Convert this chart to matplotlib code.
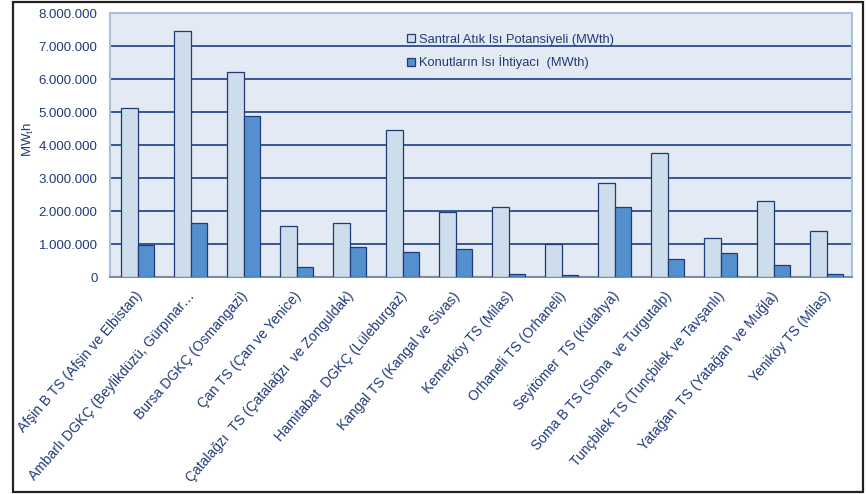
import matplotlib.pyplot as plt
import numpy as np
from matplotlib.patches import Patch, Rectangle
from matplotlib.ticker import FuncFormatter

plt.rcParams["font.family"] = ["Liberation Sans", "DejaVu Sans"]

plants = [
    "Afşin B TS (Afşin ve Elbistan)",
    "Ambarlı DGKÇ (Beylikdüzü, Gürpınar…",
    "Bursa DGKÇ (Osmangazi)",
    "Çan TS (Çan ve Yenice)",
    "Çatalağzı  TS (Çatalağzı  ve Zonguldak)",
    "Hamitabat  DGKÇ (Lüleburgaz)",
    "Kangal TS (Kangal ve Sivas)",
    "Kemerköy TS (Milas)",
    "Orhaneli TS (Orhaneli)",
    "Seyitömer  TS (Kütahya)",
    "Soma B TS (Soma  ve Turgutalp)",
    "Tunçbilek TS (Tunçbilek ve Tavşanlı)",
    "Yatağan  TS (Yatağan  ve Muğla)",
    "Yeniköy TS (Milas)",
]
waste_heat = [5120000, 7450000, 6200000, 1540000, 1640000, 4450000, 1980000,
              2110000, 1010000, 2860000, 3770000, 1180000, 2290000, 1380000]
heat_demand = [960000, 1640000, 4880000, 300000, 910000, 750000, 850000,
               100000, 60000, 2130000, 560000, 730000, 370000, 100000]
series_names = ["Santral Atık Isı Potansiyeli (MWth)", "Konutların Isı İhtiyacı  (MWth)"]

NAVY = "#1F3A78"
LIGHT = "#CEDDEC"
DARK = "#5590CE"

fig = plt.figure(figsize=(8.66, 4.94), dpi=100)
ax = fig.add_axes([110 / 866, 1 - 277 / 494, 742 / 866, 264 / 494])
ax.set_facecolor("#E3EAF3")

x = np.arange(len(plants))
w = 0.31
ax.bar(x - w / 2 + 0.02, waste_heat, w, color=LIGHT, edgecolor=NAVY, linewidth=0.9, zorder=3)
ax.bar(x + w / 2 + 0.02, heat_demand, w, color=DARK, edgecolor=NAVY, linewidth=0.9, zorder=3)

ax.set_xlim(-0.5, len(plants) - 0.5)
ax.set_ylim(0, 8000000)
ax.set_yticks(np.arange(0, 8000001, 1000000))
ax.yaxis.set_major_formatter(FuncFormatter(lambda v, p: f"{int(v):,}".replace(",", ".")))
ax.grid(axis="y", color="#2A4B8C", linewidth=1.3, zorder=1)
ax.tick_params(axis="y", length=0, pad=9, labelsize=9.5, labelcolor=NAVY)
ax.tick_params(axis="x", length=0, pad=12, labelsize=10, labelcolor=NAVY)
ax.set_xticks(x)
ax.set_xticklabels(plants, rotation=49, ha="right", va="center", rotation_mode="anchor")
for lbl in ax.get_xticklabels():
    lbl.set_x(lbl.get_position()[0])
# nudge labels slightly right, to sit like the original
from matplotlib.transforms import ScaledTranslation
shift = ScaledTranslation(3 / 100, 0, fig.dpi_scale_trans)
for lbl in ax.get_xticklabels():
    lbl.set_transform(lbl.get_transform() + shift)

for side in ("top", "right", "left"):
    ax.spines[side].set_color("#A9C0DE")
    ax.spines[side].set_linewidth(1.5)
ax.spines["bottom"].set_color("#7E8DA6")
ax.spines["bottom"].set_linewidth(1.5)

ax.set_ylabel("MW$_\\mathregular{t}$h", color=NAVY, fontsize=9.5)
ax.yaxis.set_label_coords(-0.100, 0.52)

handles = [Patch(facecolor=LIGHT, edgecolor=NAVY, linewidth=0.9),
           Patch(facecolor=DARK, edgecolor=NAVY, linewidth=0.9)]
ax.legend(handles, series_names, loc="upper left", bbox_to_anchor=(0.385, 0.965),
          frameon=False, fontsize=9.3, handlelength=0.6, handleheight=0.6,
          handletextpad=0.3, labelspacing=0.75, labelcolor=NAVY)

fig.patches.append(Rectangle((13 / 866, 2 / 494), 850 / 866, 490 / 494,
                             transform=fig.transFigure, fill=False,
                             edgecolor="#222222", linewidth=1.6))

fig.savefig("out.png", dpi=100)
